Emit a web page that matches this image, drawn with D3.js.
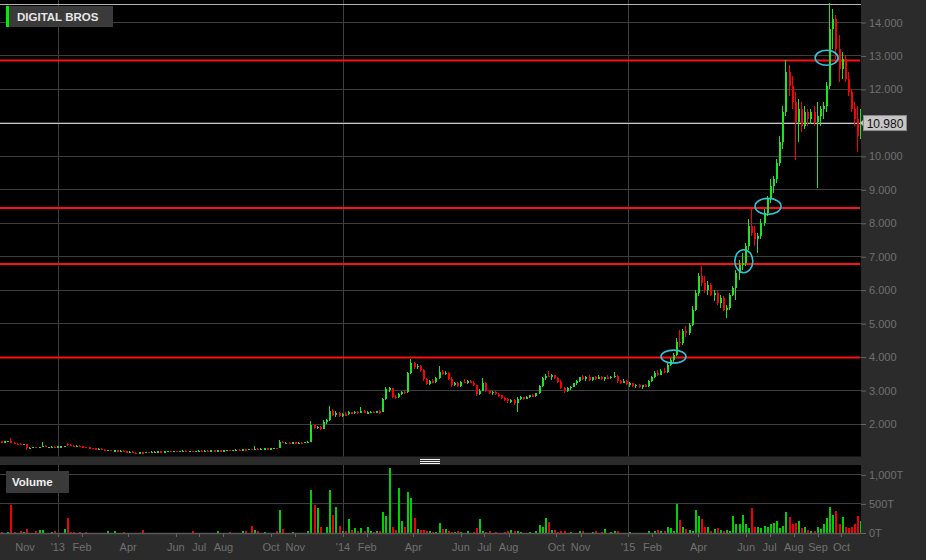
<!DOCTYPE html>
<html><head><meta charset="utf-8">
<script src="https://cdn.jsdelivr.net/npm/d3@7"></script>
<style>html,body{margin:0;padding:0;background:#2b2b2b;overflow:hidden}svg{display:block}</style>
</head><body><svg id="c" width="926" height="560"></svg>
<script>
const title = "DIGITAL BROS";
const startDate = "2012-10-19";
const stepDays = 4;
const open = [
1.47,1.46,1.47,1.48,1.43,1.40,1.39,1.37,1.39,1.26, 1.28,1.30,1.29,1.30,1.34,1.30,1.30,1.31,1.30,1.32,
1.32,1.40,1.36,1.34,1.33,1.34,1.32,1.30,1.29,1.27, 1.26,1.24,1.25,1.22,1.20,1.21,1.19,1.20,1.18,1.19,
1.17,1.15,1.16,1.13,1.12,1.14,1.13,1.15,1.14,1.16, 1.16,1.17,1.16,1.17,1.18,1.17,1.18,1.17,1.18,1.19,
1.17,1.18,1.17,1.18,1.19,1.18,1.19,1.18,1.20,1.19, 1.20,1.19,1.20,1.21,1.20,1.21,1.22,1.21,1.23,1.22,
1.24,1.23,1.25,1.23,1.25,1.26,1.25,1.26,1.27,1.26, 1.46,1.42,1.43,1.42,1.44,1.41,1.43,1.42,1.45,1.46,
1.97,1.86,1.90,1.84,2.05,2.10,2.38,2.25,2.32,2.23, 2.28,2.27,2.33,2.30,2.35,2.31,2.38,2.32,2.34,2.35,
2.32,2.36,2.34,2.72,3.02,3.05,2.80,2.78,2.88,2.95, 2.93,3.50,3.82,3.68,3.72,3.60,3.32,3.18,3.26,3.24,
3.36,3.55,3.48,3.52,3.34,3.15,3.22,3.12,3.25,3.24, 3.27,3.22,3.15,2.88,2.98,3.22,2.98,2.92,2.95,2.88,
2.84,2.75,2.72,2.66,2.70,2.60,2.74,2.78,2.74,2.80, 2.84,2.82,2.90,3.12,3.35,3.42,3.40,3.44,3.36,3.25,
3.05,2.96,3.06,3.10,3.20,3.28,3.38,3.34,3.40,3.30, 3.38,3.34,3.40,3.32,3.38,3.36,3.40,3.42,3.26,3.22,
3.28,3.18,3.20,3.12,3.16,3.10,3.14,3.12,3.28,3.38, 3.52,3.46,3.58,3.55,3.75,3.90,4.05,4.45,4.40,4.75,
4.70,4.95,5.40,5.90,6.40,6.20,6.00,6.15,5.85,5.90, 5.60,5.75,5.40,5.45,5.85,6.05,6.50,6.75,6.80,7.30,
7.90,7.70,7.50,7.60,8.00,8.30,8.70,9.10,9.30,9.80, 10.40,11.30,12.50,12.10,11.60,11.00,11.40,10.90,11.30,11.10,
11.30,11.00,11.20,11.40,11.50,12.10,13.80,14.10,13.20,12.60, 12.90,12.30,11.90,11.40,11.10,10.60];
const high = [
1.49,1.48,1.49,1.58,1.45,1.42,1.41,1.40,1.39,1.30, 1.31,1.31,1.31,1.44,1.35,1.31,1.32,1.32,1.33,1.34,
1.34,1.42,1.38,1.35,1.35,1.35,1.33,1.31,1.30,1.28, 1.27,1.26,1.26,1.23,1.22,1.22,1.21,1.21,1.20,1.20,
1.18,1.17,1.17,1.14,1.15,1.15,1.16,1.16,1.17,1.17, 1.18,1.18,1.18,1.19,1.19,1.19,1.19,1.19,1.20,1.20,
1.19,1.19,1.19,1.20,1.20,1.20,1.20,1.21,1.21,1.21, 1.21,1.21,1.22,1.22,1.22,1.23,1.23,1.24,1.24,1.25,
1.25,1.34,1.27,1.26,1.27,1.27,1.27,1.28,1.28,1.52, 1.48,1.44,1.45,1.46,1.45,1.44,1.45,1.46,1.47,2.07,
2.00,1.92,1.93,2.10,2.12,2.52,2.42,2.36,2.34,2.30, 2.33,2.36,2.35,2.38,2.37,2.50,2.40,2.36,2.38,2.37,
2.38,2.40,2.75,3.08,3.10,3.06,2.86,2.92,2.98,3.00, 3.55,3.93,3.85,3.78,3.76,3.62,3.35,3.30,3.32,3.40,
3.72,3.60,3.58,3.54,3.38,3.25,3.24,3.28,3.32,3.30, 3.30,3.26,3.16,3.02,3.35,3.24,3.00,2.98,2.97,2.92,
2.86,2.80,2.76,2.74,2.72,2.78,2.82,2.80,2.82,2.86, 2.88,2.92,3.15,3.40,3.48,3.56,3.48,3.46,3.40,3.30,
3.10,3.10,3.12,3.22,3.30,3.40,3.46,3.42,3.44,3.40, 3.42,3.44,3.42,3.40,3.44,3.42,3.55,3.44,3.30,3.32,
3.30,3.24,3.22,3.18,3.18,3.16,3.18,3.30,3.42,3.58, 3.60,3.62,3.66,3.80,3.96,4.10,4.55,4.80,4.82,4.90,
5.00,5.50,6.00,6.50,6.70,6.40,6.25,6.20,6.00,5.95, 5.85,5.80,5.55,5.90,6.10,6.60,6.90,7.10,7.40,8.10,
8.40,7.90,7.70,8.10,8.40,8.80,9.30,9.40,9.90,10.60, 11.50,12.85,12.70,12.40,11.90,11.70,11.60,11.50,11.40,11.40,
11.50,11.60,11.50,11.60,12.20,14.57,14.40,14.20,13.60,13.10, 13.00,12.50,12.00,11.60,11.50,11.40];
const low = [
1.45,1.45,1.46,1.42,1.38,1.37,1.36,1.36,1.22,1.24, 1.27,1.28,1.28,1.29,1.29,1.29,1.29,1.29,1.30,1.31,
1.31,1.33,1.33,1.32,1.32,1.31,1.29,1.28,1.26,1.24, 1.23,1.22,1.21,1.19,1.19,1.18,1.18,1.17,1.17,1.16,
1.14,1.13,1.12,1.10,1.11,1.12,1.12,1.13,1.13,1.14, 1.15,1.15,1.15,1.16,1.16,1.16,1.16,1.16,1.17,1.16,
1.16,1.16,1.16,1.17,1.17,1.17,1.17,1.17,1.18,1.18, 1.18,1.18,1.19,1.19,1.19,1.20,1.20,1.20,1.21,1.21,
1.22,1.22,1.22,1.22,1.24,1.24,1.24,1.25,1.25,1.26, 1.41,1.40,1.41,1.41,1.40,1.40,1.41,1.41,1.43,1.46,
1.84,1.83,1.82,1.83,1.98,2.08,2.22,2.20,2.20,2.18, 2.24,2.25,2.27,2.28,2.29,2.30,2.30,2.28,2.31,2.30,
2.30,2.28,2.34,2.70,2.95,2.76,2.74,2.76,2.85,2.88, 2.92,3.48,3.62,3.62,3.55,3.28,3.14,3.15,3.20,3.22,
3.34,3.44,3.45,3.30,3.10,3.12,3.08,3.10,3.20,3.18, 3.20,3.12,2.82,2.85,2.96,2.95,2.88,2.86,2.84,2.80,
2.72,2.68,2.62,2.60,2.55,2.33,2.70,2.70,2.72,2.76, 2.78,2.80,2.88,3.10,3.30,3.38,3.30,3.32,3.20,3.02,
2.92,2.94,3.00,3.08,3.16,3.25,3.30,3.28,3.26,3.28, 3.30,3.32,3.30,3.28,3.34,3.32,3.36,3.22,3.18,3.20,
3.14,3.10,3.08,3.06,3.06,3.04,3.08,3.10,3.24,3.36, 3.42,3.44,3.50,3.52,3.72,3.82,4.02,4.30,4.36,4.60,
4.66,4.90,5.35,5.80,6.10,5.90,5.85,5.80,5.65,5.55, 5.45,5.35,5.16,5.40,5.80,5.70,6.30,6.60,6.70,7.20,
7.60,7.30,7.10,7.50,7.90,8.20,8.60,8.90,9.20,9.70, 10.20,11.20,11.80,11.40,9.88,10.40,10.70,10.80,10.90,10.95,
10.90,9.04,10.90,11.10,11.30,12.00,13.20,12.90,12.20,12.30, 12.20,11.80,11.30,10.90,10.10,10.50];
const close = [
1.46,1.47,1.48,1.43,1.40,1.39,1.37,1.39,1.26,1.28, 1.30,1.29,1.30,1.34,1.30,1.30,1.31,1.30,1.32,1.32,
1.33,1.36,1.34,1.33,1.34,1.32,1.30,1.29,1.27,1.26, 1.24,1.25,1.22,1.20,1.21,1.19,1.20,1.18,1.19,1.17,
1.15,1.16,1.13,1.12,1.14,1.13,1.15,1.14,1.16,1.16, 1.17,1.16,1.17,1.18,1.17,1.18,1.17,1.18,1.19,1.17,
1.18,1.17,1.18,1.19,1.18,1.19,1.18,1.20,1.19,1.20, 1.19,1.20,1.21,1.20,1.21,1.22,1.21,1.23,1.22,1.24,
1.23,1.25,1.23,1.25,1.26,1.25,1.26,1.27,1.26,1.46, 1.42,1.43,1.42,1.44,1.41,1.43,1.42,1.45,1.46,1.97,
1.86,1.90,1.84,2.05,2.10,2.38,2.25,2.32,2.23,2.28, 2.27,2.33,2.30,2.35,2.31,2.38,2.32,2.34,2.35,2.32,
2.36,2.34,2.72,3.02,3.05,2.80,2.78,2.88,2.95,2.93, 3.50,3.82,3.68,3.72,3.60,3.32,3.18,3.26,3.24,3.36,
3.55,3.48,3.52,3.34,3.15,3.22,3.12,3.25,3.24,3.27, 3.22,3.15,2.88,2.98,3.22,2.98,2.92,2.95,2.88,2.84,
2.75,2.72,2.66,2.70,2.60,2.74,2.78,2.74,2.80,2.84, 2.82,2.90,3.12,3.35,3.42,3.40,3.44,3.36,3.25,3.05,
2.96,3.06,3.10,3.20,3.28,3.38,3.34,3.40,3.30,3.38, 3.34,3.40,3.32,3.38,3.36,3.40,3.42,3.26,3.22,3.28,
3.18,3.20,3.12,3.16,3.10,3.14,3.12,3.28,3.38,3.52, 3.46,3.58,3.55,3.75,3.90,4.05,4.45,4.40,4.75,4.70,
4.95,5.40,5.90,6.40,6.20,6.00,6.15,5.85,5.90,5.60, 5.75,5.40,5.45,5.85,6.05,6.50,6.75,6.80,7.30,7.90,
7.70,7.50,7.60,8.00,8.30,8.70,9.10,9.30,9.80,10.40, 11.30,12.50,12.10,11.60,11.00,11.40,10.90,11.30,11.10,11.30,
11.00,11.20,11.40,11.50,12.10,13.80,14.10,13.20,12.60,12.90, 12.30,11.90,11.40,11.10,10.60,10.98];
// volume in "T" units as labelled on the axis
const volume = [
10,0,5,465,15,0,30,10,60,0, 0,25,40,40,0,0,10,20,0,0,
60,247,10,10,0,15,0,15,0,0, 0,0,0,0,20,0,30,0,0,15,
0,0,0,0,0,40,0,0,0,0, 0,0,0,0,0,0,0,0,0,0,
0,20,0,0,0,0,0,0,0,25, 0,0,0,15,0,0,0,30,20,0,
110,40,20,0,15,0,0,0,20,380, 60,0,0,15,0,0,0,0,30,724,
465,414,100,0,100,724,300,436,120,30, 20,224,40,80,30,70,20,100,20,10,
30,20,350,280,1115,100,40,758,200,100, 695,600,250,60,50,40,30,20,10,10,
170,60,60,20,10,10,30,10,0,20, 0,10,80,224,30,10,20,0,10,0,
0,10,20,40,30,30,10,0,0,10, 0,20,130,100,241,172,40,40,10,30,
20,0,10,0,0,20,20,0,0,10, 30,0,10,60,0,10,30,30,0,0,
0,10,0,0,0,0,0,20,0,20, 50,20,30,100,70,30,494,207,90,60,
40,30,380,276,240,100,90,30,60,80, 40,30,40,30,276,150,150,293,150,80,
420,100,100,80,110,100,140,170,200,80, 120,350,259,150,160,200,80,100,40,30,
30,100,60,150,250,430,293,362,150,258, 90,80,100,150,276,200];
const lastPrice = 10.98;
const levelLines = [12.85, 8.44, 6.77, 3.97];
const circleDates = ["2015-02-28","2015-05-29","2015-06-29","2015-09-12"];
const circlePrices = [4.0, 6.85, 8.49, 12.93];
const priceTicks = [2,3,4,5,6,7,8,9,10,11,12,13,14];
const hiddenPriceLabels = [11]; // covered by the last-price tag
const volumeTicks = [0,500,1000];
const timeTickDates = ["2012-11-01","2013-01-01","2013-02-01","2013-04-01","2013-06-01","2013-07-01","2013-08-01","2013-10-01","2013-11-01","2014-01-01","2014-02-01","2014-04-01","2014-06-01","2014-07-01","2014-08-01","2014-10-01","2014-11-01","2015-01-01","2015-02-01","2015-04-01","2015-06-01","2015-07-01","2015-08-01","2015-09-01","2015-10-01"];
const timeTickLabels = ["Nov","'13","Feb","Apr","Jun","Jul","Aug","Oct","Nov","'14","Feb","Apr","Jun","Jul","Aug","Oct","Nov","'15","Feb","Apr","Jun","Jul","Aug","Sep","Oct"];
const yearStarts = ["2013-01-01","2014-01-01","2015-01-01"];
const xDomain = ["2012-10-19","2015-10-26"];

// ---------- drawing ----------
const parse = d3.timeParse("%Y-%m-%d");
const plotR = 861;
const mainTop = 0, mainBot = 456.5, volTop = 465, volBot = 533;
const FONT = "'Liberation Sans', Arial, sans-serif";
const GRID = "#3e3e3e", AXTXT = "#707070";
const UP = "#1ee61e", DOWN = "#ff0000", FLAT = "#9a9a9a";

const svg = d3.select("#c");
const x = d3.scaleTime().domain(xDomain.map(parse)).range([0, plotR]);
const y = d3.scaleLinear().domain([2, 14]).range([423.5, 22]);
const yv = d3.scaleLinear().domain([0, 1000]).range([532.5, 474.3]);

const t0 = parse(startDate);
const candles = close.map((c, i) => ({
  date: d3.timeDay.offset(t0, i * stepDays), o: open[i], h: high[i], l: low[i], c, v: volume[i]
}));
const col = d => d.c > d.o ? UP : (d.c < d.o ? DOWN : FLAT);
const vcol = d => d.c > d.o ? "#00d000" : (d.c < d.o ? "#f00000" : FLAT);

// panels
svg.append("rect").attr("x",0).attr("y",mainTop).attr("width",plotR).attr("height",mainBot-mainTop).attr("fill","#000");
svg.append("rect").attr("x",0).attr("y",volTop).attr("width",plotR).attr("height",volBot-volTop).attr("fill","#000");

const defs = svg.append("defs");
defs.append("clipPath").attr("id","cm").append("rect").attr("x",0).attr("y",mainTop).attr("width",plotR).attr("height",mainBot-mainTop);
defs.append("clipPath").attr("id","cv").append("rect").attr("x",0).attr("y",volTop).attr("width",plotR).attr("height",volBot-volTop);

// vertical year lines
yearStarts.map(parse).forEach(d => {
  const xx = Math.round(x(d)) + 0.5;
  svg.append("line").attr("x1",xx).attr("x2",xx).attr("y1",mainTop).attr("y2",mainBot).attr("stroke",GRID);
  svg.append("line").attr("x1",xx).attr("x2",xx).attr("y1",volTop).attr("y2",volBot).attr("stroke",GRID);
});

// horizontal price grid + axis
priceTicks.forEach(v => {
  const yy = Math.round(y(v)) + 0.5;
  svg.append("line").attr("x1",0).attr("x2",plotR).attr("y1",yy).attr("y2",yy).attr("stroke",GRID);
});
const yAxis = d3.axisRight(y).tickValues(priceTicks.filter(v => !hiddenPriceLabels.includes(v)))
  .tickFormat(d3.format(".3f")).tickSize(5).tickPadding(3);
const gy = svg.append("g").attr("transform",`translate(${plotR},0.5)`).call(yAxis);
gy.select(".domain").remove();
gy.selectAll("line").attr("stroke","#666");
gy.selectAll("text").attr("fill",AXTXT).style("font-family",FONT).style("font-size","11px");

// volume grid + axis
volumeTicks.forEach(v => {
  if (v === 0) return;
  const yy = Math.round(yv(v)) + 0.5;
  svg.append("line").attr("x1",0).attr("x2",plotR).attr("y1",yy).attr("y2",yy).attr("stroke",GRID);
});
const vAxis = d3.axisRight(yv).tickValues(volumeTicks).tickFormat(d => d3.format(",")(d) + "T").tickSize(5).tickPadding(3);
const gv = svg.append("g").attr("transform",`translate(${plotR},0.5)`).call(vAxis);
gv.select(".domain").remove();
gv.selectAll("line").attr("stroke","#666");
gv.selectAll("text").attr("fill",AXTXT).style("font-family",FONT).style("font-size","11px");

// top border line
svg.append("line").attr("x1",0).attr("x2",plotR).attr("y1",4.5).attr("y2",4.5).attr("stroke","#b4b4b4");

// red level lines
levelLines.forEach(v => {
  svg.append("line").attr("x1",0).attr("x2",plotR-1).attr("y1",y(v)).attr("y2",y(v)).attr("stroke","#ff1010").attr("stroke-width",2);
});

// last price line
svg.append("line").attr("x1",0).attr("x2",plotR).attr("y1",Math.round(y(lastPrice))+0.5).attr("y2",Math.round(y(lastPrice))+0.5).attr("stroke","#c8c8c8");

// candles
const gc = svg.append("g").attr("clip-path","url(#cm)").attr("shape-rendering","crispEdges");
candles.forEach(d => {
  const xx = Math.round(x(d.date)) + 1;
  const c = col(d);
  gc.append("rect").attr("x",xx).attr("width",1).attr("y",y(d.h)).attr("height",Math.max(1, y(d.l)-y(d.h))).attr("fill",c);
  const top = y(Math.max(d.o,d.c)), bot = y(Math.min(d.o,d.c));
  gc.append("rect").attr("x",xx).attr("width",2).attr("y",top).attr("height",Math.max(1.5, bot-top)).attr("fill",c);
});

// volume bars
const gb = svg.append("g").attr("clip-path","url(#cv)").attr("shape-rendering","crispEdges");
candles.filter(d => d.v > 0).forEach(d => {
  const xx = Math.round(x(d.date)) + 1;
  gb.append("rect").attr("x",xx).attr("width",2).attr("y",yv(d.v)).attr("height",yv(0)-yv(d.v)).attr("fill",vcol(d));
});

// cyan ellipses
const radii = [[12.5,6.5],[9,11.5],[13,8],[11.5,7.5]];
circleDates.forEach((ds, i) => {
  svg.append("ellipse").attr("cx",x(parse(ds))).attr("cy",y(circlePrices[i]))
    .attr("rx",radii[i][0]).attr("ry",radii[i][1])
    .attr("fill","none").attr("stroke","#33c3d6").attr("stroke-width",1.6);
});

// bottom axis line and labels
svg.append("line").attr("x1",0).attr("x2",plotR).attr("y1",volBot+0.5).attr("y2",volBot+0.5).attr("stroke","#5a5a5a").attr("stroke-width",1.5);
timeTickDates.map(parse).forEach((d, i) => {
  const xx = x(d);
  if (xx > 15) {
    svg.append("line").attr("x1",Math.round(xx)+0.5).attr("x2",Math.round(xx)+0.5).attr("y1",volBot+1).attr("y2",volBot+4).attr("stroke","#666");
  }
  svg.append("text").attr("x",Math.max(xx, 25)).attr("y",551).attr("text-anchor","middle")
    .attr("fill",AXTXT).style("font-family",FONT).style("font-size","11px").text(timeTickLabels[i]);
});

// panel separator handle
const gh = svg.append("g").attr("shape-rendering","crispEdges");
[459.5, 461.5, 463.5].forEach(yy => {
  gh.append("line").attr("x1",420).attr("x2",440).attr("y1",yy).attr("y2",yy).attr("stroke","#f2f2f2");
});

// last price label box
const ly = y(lastPrice);
svg.append("path").attr("d",`M${plotR-1},${ly} L${plotR+3},${ly-4} L${plotR+3},${ly+4} Z`).attr("fill","#bdbdbd");
svg.append("rect").attr("x",plotR+2.5).attr("y",ly-7.5).attr("width",43).attr("height",15).attr("fill","#c6c6c6").attr("stroke","#8a8a8a");
svg.append("text").attr("x",plotR+24).attr("y",ly+4.5).attr("text-anchor","middle").attr("fill","#111")
  .style("font-family",FONT).style("font-size","12px").text(d3.format(".3f")(lastPrice));

// title label
svg.append("rect").attr("x",6).attr("y",6).attr("width",107).attr("height",21).attr("fill","#3a3a3a");
svg.append("rect").attr("x",6).attr("y",6).attr("width",3).attr("height",21).attr("fill","#00ee00");
svg.append("text").attr("x",17).attr("y",21).attr("fill","#e6e6e6").style("font-family",FONT).style("font-size","11.5px").style("font-weight","bold").text(title);

// volume label
svg.append("rect").attr("x",6).attr("y",471).attr("width",63).attr("height",22).attr("fill","#3a3a3a");
svg.append("text").attr("x",12).attr("y",486).attr("fill","#f0f0f0").style("font-family",FONT).style("font-size","11.5px").style("font-weight","bold").text("Volume");
</script>
</body></html>
